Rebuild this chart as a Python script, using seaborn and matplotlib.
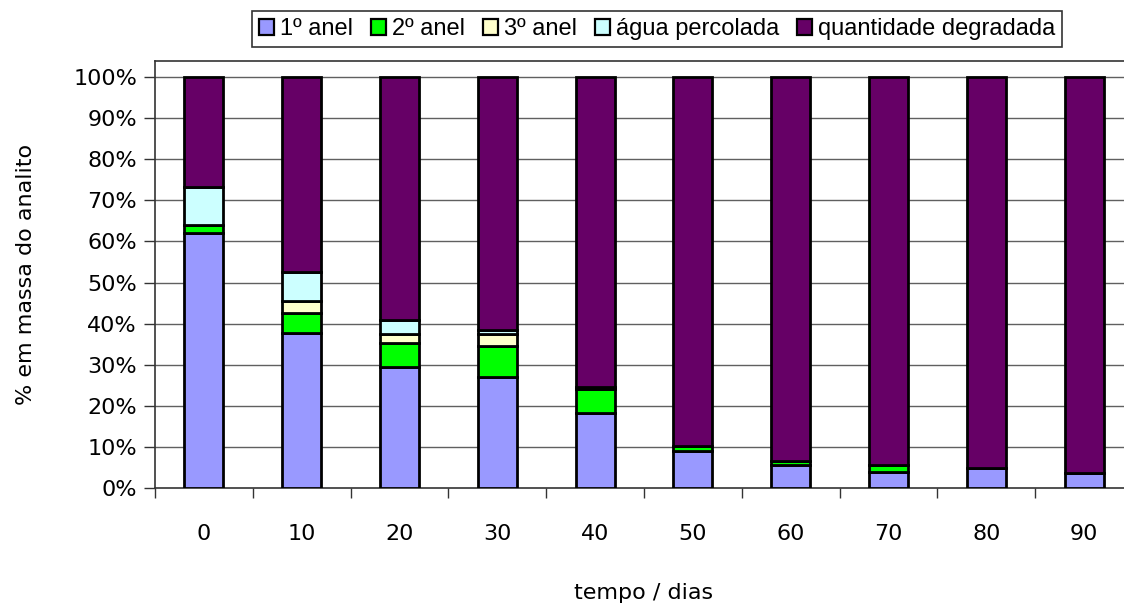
import matplotlib
matplotlib.use("Agg")
import matplotlib.pyplot as plt
from matplotlib.patches import Patch
from matplotlib.ticker import FixedLocator, PercentFormatter
import numpy as np
import pandas as pd
import seaborn as sns

# Sampling days (x categories)
days = ["0", "10", "20", "30", "40", "50", "60", "70", "80", "90"]

# Mass fraction of the analyte (%) found in each compartment
anel_1 = [62.0, 37.8, 29.5, 27.1, 18.2, 9.1, 5.6, 3.8, 4.8, 3.6]
anel_2 = [2.0, 4.9, 5.9, 7.4, 5.8, 1.1, 1.0, 1.8, 0.0, 0.0]
anel_3 = [0.0, 2.8, 2.0, 3.0, 0.2, 0.0, 0.0, 0.0, 0.0, 0.0]
agua_percolada = [9.3, 7.0, 3.5, 1.0, 0.3, 0.0, 0.0, 0.0, 0.0, 0.0]

series_names = ["1º anel", "2º anel", "3º anel", "água percolada",
                "quantidade degradada"]
series_colors = ["#9999FF", "#00FF00", "#FFFFCC", "#CCFFFF", "#660066"]

y_ticks = [0, 10, 20, 30, 40, 50, 60, 70, 80, 90, 100]

# Remaining share is the degraded quantity
measured = np.array([anel_1, anel_2, anel_3, agua_percolada])
degradada = 100.0 - measured.sum(axis=0)
layers = [anel_1, anel_2, anel_3, agua_percolada, list(degradada)]

sns.set_theme(style="white")
plt.rcParams["font.family"] = ["DejaVu Sans"]
plt.rcParams["text.color"] = "black"

fig = plt.figure(figsize=(11.24, 6.04), dpi=100)
ax = fig.add_axes([155 / 1124, 1 - 488 / 604, 978 / 1124, 427 / 604])

bottom = np.zeros(len(days))
for name, vals, color in zip(series_names, layers, series_colors):
    df = pd.DataFrame({"dia": days, "valor": np.array(vals) / 100.0})
    sns.barplot(data=df, x="dia", y="valor", order=days, color=color,
                width=0.4, bottom=bottom, edgecolor="black", linewidth=2.0,
                saturation=1, ax=ax, zorder=3)
    bottom = bottom + np.array(vals) / 100.0

ax.set_xlim(-0.5, len(days) - 0.5)
ax.set_ylim(0, 1.039)

# Y axis: percent ticks and horizontal gridlines
ax.yaxis.set_major_locator(FixedLocator([t / 100 for t in y_ticks]))
ax.yaxis.set_major_formatter(PercentFormatter(1.0, decimals=0))
for t in y_ticks[1:]:
    ax.axhline(t / 100, color="#606060", lw=1.0, zorder=1)

# X axis: labels at category centres, tick marks between categories
ax.xaxis.set_minor_locator(FixedLocator(np.arange(-0.5, len(days), 1.0)))
ax.tick_params(axis="x", which="major", length=0, pad=26, labelsize=16,
               labelcolor="black")
ax.tick_params(axis="x", which="minor", bottom=True, length=7, width=1,
               color="#333333", direction="out")
ax.tick_params(axis="y", which="major", left=True, length=8, width=1,
               color="#333333", direction="out", pad=5, labelsize=16,
               labelcolor="black")

for side in ["left", "bottom", "top"]:
    ax.spines[side].set_visible(True)
    ax.spines[side].set_color("#333333")
    ax.spines[side].set_linewidth(1.2)
ax.spines["right"].set_visible(False)

ax.set_xlabel("tempo / dias", fontsize=16, color="black")
ax.set_ylabel("% em massa do analito", fontsize=16, color="black")
ax.xaxis.set_label_coords(0.5, -0.222)
ax.yaxis.set_label_coords(-0.122, 0.5)

handles = [Patch(facecolor=c, edgecolor="black", linewidth=1.6, label=n)
           for n, c in zip(series_names, series_colors)]
leg = fig.legend(handles=handles, loc="center",
                 bbox_to_anchor=(657 / 1124, 1 - 29 / 604), ncol=5,
                 frameon=True, fancybox=False, edgecolor="black",
                 prop={"family": "Liberation Sans", "size": 17},
                 handlelength=0.65, handleheight=0.65, handletextpad=0.25,
                 columnspacing=0.75, borderpad=0.3, borderaxespad=0,
                 labelcolor="black")
leg.get_frame().set_linewidth(1.2)

fig.savefig("out.png", dpi=100)
